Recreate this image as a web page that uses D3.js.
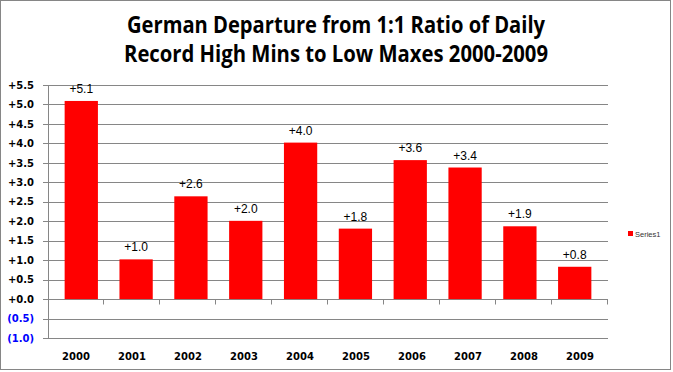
<!DOCTYPE html>
<html><head><meta charset="utf-8">
<script src="https://cdn.jsdelivr.net/npm/d3@7"></script>
<style>html,body{margin:0;padding:0;background:#fff;}svg{display:block;}</style>
</head><body>
<svg id="c" width="673" height="372"></svg>
<script>
const titleLines = ["German Departure from 1:1 Ratio of Daily", "Record High Mins to Low Maxes 2000-2009"];
const years = ["2000","2001","2002","2003","2004","2005","2006","2007","2008","2009"];
const values = [5.09, 1.02, 2.64, 2.01, 4.02, 1.81, 3.57, 3.38, 1.87, 0.83];
const yTicks = [-1.0,-0.5,0,0.5,1.0,1.5,2.0,2.5,3.0,3.5,4.0,4.5,5.0,5.5];
const seriesName = "Series1";

(function(){
const svg = d3.select("#c");
const pL = 48, pR = 608, pT = 85, pB = 338;

// outer border
svg.append("rect").attr("x",0.5).attr("y",0.5).attr("width",670).attr("height",369)
  .attr("fill","#fff").attr("stroke","#868686").attr("stroke-width",1);

const x = d3.scaleBand().domain(years).range([pL,pR]).paddingInner(0.393).paddingOuter(0.3035);
const xb = d3.scaleBand().domain(years).range([pL,pR]);
const y = d3.scaleLinear().domain([-1,5.5]).range([pB,pT]);

// gridlines
svg.append("g").selectAll("line").data(yTicks).join("line")
  .attr("x1",pL-5).attr("x2",pR)
  .attr("y1",d=>Math.round(y(d))+0.5).attr("y2",d=>Math.round(y(d))+0.5)
  .attr("stroke","#868686").attr("stroke-width",1);

// y axis line
svg.append("line").attr("x1",pL+0.5).attr("x2",pL+0.5)
  .attr("y1",Math.round(y(5.5))).attr("y2",Math.round(y(-1))+1)
  .attr("stroke","#868686");

// y labels
const fmtY = d => d < 0 ? "(" + d3.format(".1f")(-d) + ")" : d3.format("+.1f")(d);
svg.append("g").selectAll("text").data(yTicks).join("text")
  .attr("x",34).attr("y",d=>y(d)+3.7)
  .attr("text-anchor","end")
  .attr("font-family","DejaVu Sans").attr("font-weight","bold").attr("font-size","10px")
  .attr("fill",d=>d<0?"#0000ff":"#000")
  .text(fmtY);

// bars
svg.append("g").selectAll("rect").data(values).join("rect")
  .attr("x",(d,i)=>x(years[i])).attr("width",x.bandwidth())
  .attr("y",d=>y(Math.max(0,d))).attr("height",d=>Math.abs(y(d)-y(0)))
  .attr("fill","#ff0000");

// x axis ticks at zero line
const zeroY = Math.round(y(0))+0.5;
const tickXs = years.map(v=>xb(v)+xb.bandwidth());
svg.append("g").selectAll("line").data(tickXs).join("line")
  .attr("x1",d=>Math.round(d)-0.5).attr("x2",d=>Math.round(d)-0.5)
  .attr("y1",zeroY).attr("y2",zeroY+5)
  .attr("stroke","#868686");

// data labels
svg.append("g").selectAll("text").data(values).join("text")
  .attr("x",(d,i)=>x(years[i])+x.bandwidth()/2)
  .attr("y",d=>y(d)-8)
  .attr("text-anchor","middle")
  .attr("font-family","Liberation Sans, Arial").attr("font-size","12px").attr("fill","#000")
  .text(d=>d3.format("+.1f")(d));

// x labels
svg.append("g").selectAll("text").data(years).join("text")
  .attr("x",d=>xb(d)+xb.bandwidth()/2).attr("y",360)
  .attr("text-anchor","middle")
  .attr("font-family","DejaVu Sans").attr("font-weight","bold").attr("font-size","10px")
  .attr("fill","#000")
  .text(d=>d);

// title
const tW = [418, 424];
const tY = [33, 62];
titleLines.forEach((t,i)=>{
  svg.append("text").attr("x",336).attr("y",tY[i]).attr("text-anchor","middle")
    .attr("font-family","Open Sans, Liberation Sans").attr("font-weight","bold").attr("font-size","23px")
    .attr("textLength",tW[i]).attr("lengthAdjust","spacingAndGlyphs")
    .attr("fill","#000").text(t);
});

// legend
svg.append("rect").attr("x",628).attr("y",231).attr("width",5).attr("height",5).attr("fill","#ff0000");
svg.append("text").attr("x",635).attr("y",236.5)
  .attr("font-family","Liberation Sans, Arial").attr("font-size","7.5px").attr("fill","#333")
  .text(seriesName);
})();
</script>
</body></html>
